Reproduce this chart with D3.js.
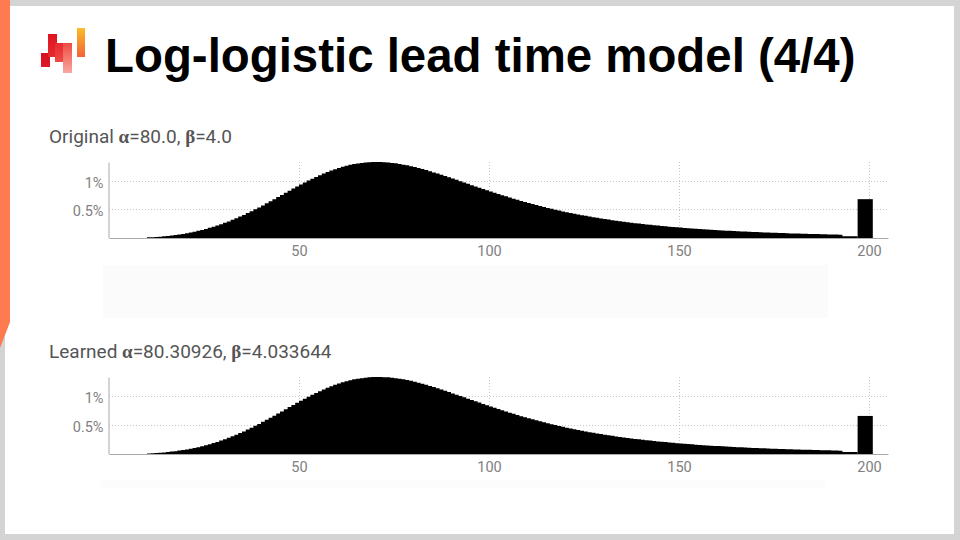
<!DOCTYPE html>
<html><head><meta charset="utf-8">
<script src="https://cdn.jsdelivr.net/npm/d3@7"></script>
<style>html,body{margin:0;padding:0;background:#fff;} svg{display:block}</style>
</head><body>
<svg id="c" width="960" height="540"></svg>
<script>
// ---------- data ----------
const slideTitle = "Log-logistic lead time model (4/4)";
const xTicks = [50, 100, 150, 200];
const yTicks = [0.5, 1];
const yTickLabels = ["0.5%", "1%"];
const xDomain = [0, 205];
const firstBin = 10;            // first 1-unit bin starts at lead time 10
const overflowBin = [197, 201]; // last (catch-all) bin

const originalTitle = ["Original ", "α", "=80.0, ", "β", "=4.0"];
const originalPct = [
  0.011,0.015,0.019,0.024,0.030,0.036,0.044,0.052,0.062,0.072,
  0.084,0.096,0.110,0.125,0.141,0.159,0.178,0.198,0.219,0.242,
  0.266,0.291,0.318,0.346,0.375,0.405,0.436,0.469,0.502,0.536,
  0.571,0.607,0.643,0.680,0.717,0.754,0.791,0.828,0.865,0.901,
  0.937,0.971,1.005,1.038,1.070,1.100,1.129,1.157,1.182,1.206,
  1.228,1.248,1.265,1.281,1.295,1.306,1.315,1.323,1.328,1.330,
  1.331,1.330,1.327,1.322,1.315,1.307,1.297,1.285,1.272,1.258,
  1.242,1.225,1.207,1.189,1.169,1.149,1.128,1.107,1.085,1.063,
  1.040,1.018,0.995,0.972,0.949,0.926,0.903,0.881,0.858,0.836,
  0.814,0.792,0.770,0.749,0.729,0.708,0.688,0.668,0.649,0.630,
  0.612,0.594,0.577,0.560,0.543,0.527,0.511,0.496,0.481,0.466,
  0.452,0.439,0.425,0.412,0.400,0.388,0.376,0.365,0.354,0.343,
  0.332,0.322,0.313,0.303,0.294,0.285,0.277,0.268,0.260,0.253,
  0.245,0.238,0.231,0.224,0.217,0.211,0.205,0.199,0.193,0.187,
  0.182,0.177,0.172,0.167,0.162,0.157,0.153,0.149,0.144,0.140,
  0.137,0.133,0.129,0.125,0.122,0.119,0.115,0.112,0.109,0.106,
  0.104,0.101,0.098,0.095,0.093,0.090,0.088,0.086,0.084,0.081,
  0.079,0.077,0.075,0.073,0.072,0.070,0.068,0.066,0.065,0.063,
  0.061,0.060,0.058,0.030,0.030,0.030,0.030
];
const originalOverflowPct = 0.68;

const learnedTitle = ["Learned ", "α", "=80.30926, ", "β", "=4.033644"];
const learnedPct = [
  0.010,0.014,0.018,0.022,0.028,0.034,0.042,0.049,0.059,0.068,
  0.080,0.091,0.105,0.119,0.135,0.152,0.170,0.190,0.210,0.233,
  0.256,0.281,0.307,0.334,0.363,0.392,0.423,0.455,0.488,0.522,
  0.557,0.592,0.628,0.665,0.702,0.739,0.776,0.813,0.850,0.887,
  0.924,0.958,0.993,1.027,1.059,1.090,1.120,1.149,1.175,1.200,
  1.223,1.244,1.261,1.278,1.294,1.306,1.315,1.324,1.331,1.333,
  1.335,1.335,1.332,1.329,1.323,1.315,1.306,1.294,1.282,1.268,
  1.252,1.236,1.218,1.200,1.181,1.160,1.139,1.118,1.097,1.075,
  1.051,1.029,1.006,0.983,0.960,0.937,0.914,0.892,0.868,0.846,
  0.824,0.801,0.779,0.758,0.738,0.716,0.696,0.675,0.656,0.637,
  0.619,0.601,0.583,0.566,0.549,0.532,0.516,0.501,0.486,0.471,
  0.457,0.443,0.429,0.416,0.404,0.391,0.379,0.368,0.357,0.346,
  0.335,0.325,0.315,0.305,0.296,0.287,0.279,0.270,0.262,0.255,
  0.246,0.239,0.232,0.225,0.218,0.212,0.206,0.200,0.194,0.188,
  0.183,0.178,0.172,0.167,0.162,0.157,0.153,0.149,0.144,0.140,
  0.137,0.133,0.129,0.125,0.122,0.119,0.115,0.112,0.109,0.106,
  0.104,0.101,0.098,0.095,0.093,0.090,0.088,0.086,0.084,0.081,
  0.079,0.077,0.075,0.073,0.072,0.070,0.068,0.066,0.065,0.063,
  0.061,0.060,0.058,0.035,0.035,0.035,0.035
];
const learnedOverflowPct = 0.66;

// ---------- drawing ----------
const svg = d3.select("#c");
const frame = "#d4d4d4";
svg.append("rect").attr("width", 960).attr("height", 540).attr("fill", "#fff");
svg.append("rect").attr("x", 0).attr("y", 0).attr("width", 960).attr("height", 6).attr("fill", frame);
svg.append("rect").attr("x", 954).attr("y", 0).attr("width", 6).attr("height", 540).attr("fill", frame);
svg.append("rect").attr("x", 0).attr("y", 534).attr("width", 960).attr("height", 6).attr("fill", frame);
svg.append("rect").attr("x", 0).attr("y", 0).attr("width", 5).attr("height", 540).attr("fill", frame);
svg.append("path").attr("d", "M0,0H10V322L0,348Z").attr("fill", "#fe7a51");

// logo
const defs = svg.append("defs");
function grad(id, c1, c2) {
  const g = defs.append("linearGradient").attr("id", id).attr("x1", 0).attr("y1", 0).attr("x2", 0).attr("y2", 1);
  g.append("stop").attr("offset", "0%").attr("stop-color", c1);
  g.append("stop").attr("offset", "100%").attr("stop-color", c2);
}
grad("gA", "#d8101e", "#dc1a28");
grad("gB", "#e0141f", "#e42a30");
grad("gC", "#e82a30", "#ee4a44");
grad("gD", "#f04a40", "#f8a8a0");
grad("gE", "#f9be2a", "#f26238");
const logo = svg.append("g");
[[41, 53, 9, 14, "gA"], [48, 34, 9, 23, "gB"], [55, 43, 9, 19, "gC"], [63, 43, 9, 30, "gD"], [77, 28, 8, 29, "gE"]]
  .forEach(r => logo.append("rect").attr("x", r[0]).attr("y", r[1]).attr("width", r[2]).attr("height", r[3]).attr("fill", `url(#${r[4]})`));

svg.append("text").attr("x", 105).attr("y", 72)
  .attr("font-family", "'Liberation Sans', Arial, sans-serif").attr("font-weight", "bold")
  .attr("font-size", 47.4).attr("fill", "#000").text(slideTitle);

// faint placeholder blocks
svg.append("rect").attr("x", 103).attr("y", 265).attr("width", 725).attr("height", 53).attr("fill", "#fbfbfb");
svg.append("rect").attr("x", 100).attr("y", 480).attr("width", 725).attr("height", 8).attr("fill", "#fcfcfc");

function panel(titleParts, titleY, baseY, plotH, values, overflowVal) {
  const g = svg.append("g");
  const x = d3.scaleLinear().domain(xDomain).range([109, 888]);
  const allMax = d3.max(values.concat([overflowVal]));
  const y = d3.scaleLinear().domain([0, allMax]).range([baseY, baseY - plotH]);

  const t = g.append("text").attr("x", 49).attr("y", titleY)
    .attr("font-family", "Roboto, sans-serif").attr("font-size", 19).attr("fill", "#555");
  titleParts.forEach((p, i) => {
    const ts = t.append("tspan").text(p);
    if (p === "α" || p === "β") ts.attr("font-weight", "bold").attr("font-family", "'Liberation Serif', serif");
  });

  // grid
  g.selectAll(".hg").data(yTicks).join("line")
    .attr("x1", x(0)).attr("x2", x(xDomain[1])).attr("y1", d => Math.round(y(d)) + 0.5).attr("y2", d => Math.round(y(d)) + 0.5)
    .attr("stroke", "#c8c8c8").attr("stroke-dasharray", "1,2");
  g.selectAll(".vg").data(xTicks).join("line")
    .attr("x1", d => Math.round(x(d)) + 0.5).attr("x2", d => Math.round(x(d)) + 0.5).attr("y1", baseY - plotH).attr("y2", baseY)
    .attr("stroke", "#c8c8c8").attr("stroke-dasharray", "1,2");

  // histogram
  const pts = values.map((v, i) => ({ x0: firstBin + i, v }));
  pts.push({ x0: firstBin + values.length, v: values[values.length - 1] });
  const area = d3.area().x(d => x(d.x0)).y0(baseY).y1(d => y(d.v)).curve(d3.curveStepAfter);
  g.append("path").datum(pts).attr("d", area).attr("fill", "#000");
  g.append("rect").attr("x", x(overflowBin[0])).attr("width", x(overflowBin[1]) - x(overflowBin[0]))
    .attr("y", y(overflowVal)).attr("height", baseY - y(overflowVal)).attr("fill", "#000");

  // axes
  const xa = g.append("g").attr("transform", `translate(0,${baseY})`)
    .call(d3.axisBottom(x).tickValues(xTicks).tickSize(0).tickSizeOuter(0).tickPadding(8));
  xa.select(".domain").attr("stroke", "#aaa");
  xa.selectAll("text").attr("font-family", "Roboto, sans-serif").attr("font-size", 14.5).attr("fill", "#808080");

  const ya = g.append("g").attr("transform", `translate(108.5,0)`)
    .call(d3.axisLeft(y).tickValues(yTicks).tickFormat((d, i) => yTickLabels[i]).tickSize(0).tickSizeOuter(0).tickPadding(5));
  ya.select(".domain").attr("stroke", "#aaa");
  ya.selectAll("text").attr("font-family", "Roboto, sans-serif").attr("font-size", 14.5).attr("fill", "#808080").attr("dy", "0.45em");
}

panel(originalTitle, 143, 238, 76, originalPct, originalOverflowPct);
panel(learnedTitle, 358, 454, 77, learnedPct, learnedOverflowPct);
</script>
</body></html>
